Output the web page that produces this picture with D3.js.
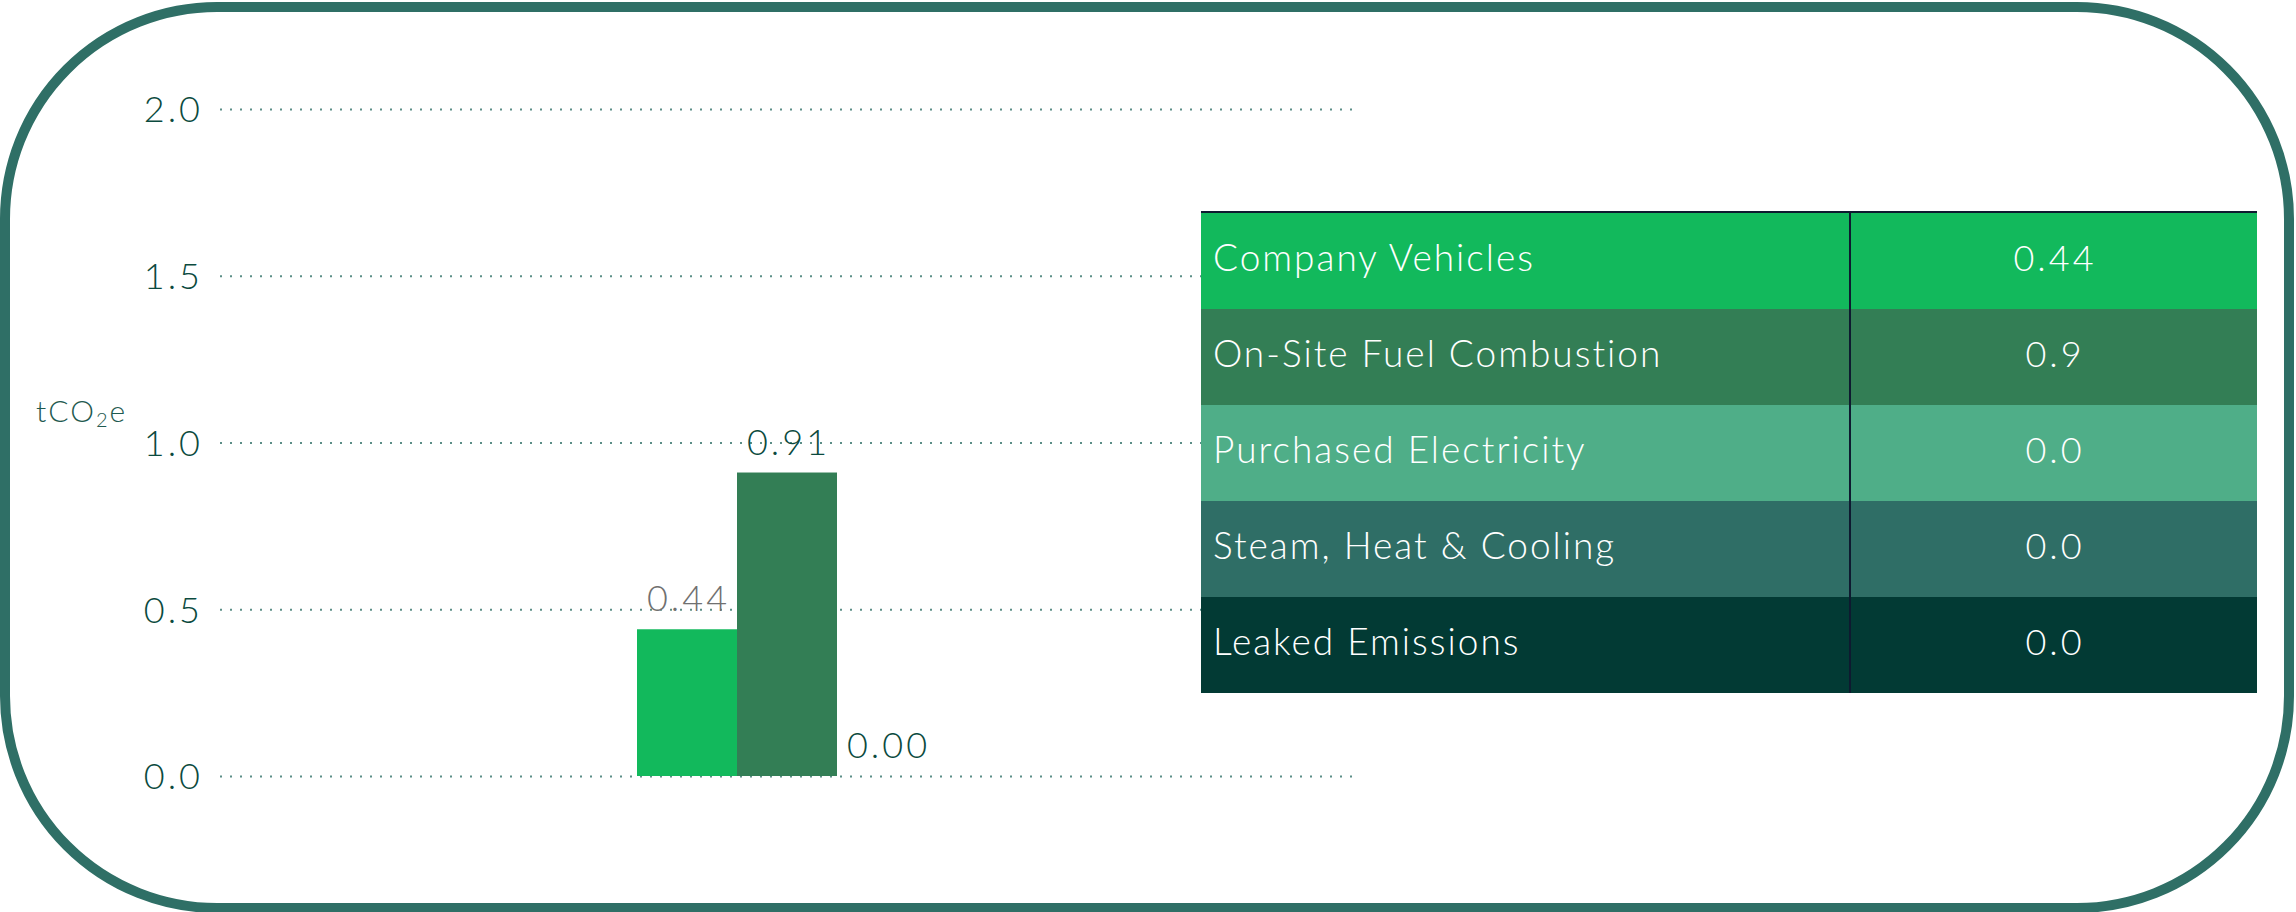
<!DOCTYPE html>
<html>
<head>
<meta charset="utf-8">
<script src="https://cdn.jsdelivr.net/npm/d3@7"></script>
<style>
  html, body { margin: 0; padding: 0; background: #fff; }
  svg { display: block; }
  text { font-family: Lato, "Open Sans", sans-serif; font-weight: 300; }
</style>
</head>
<body>
<svg id="chart"></svg>
<script>
// bar chart data
var barSeries = ["Company Vehicles", "On-Site Fuel Combustion", "Purchased Electricity"];
var barValues = [0.44, 0.91, 0.00];
var barLabels = ["0.44", "0.91", "0.00"];
var barColors = ["#12b95c", "#337e55", "#4fae88"];
var labelColors = ["#707070", "#0b4a3e", "#0b4a3e"];
var yTicks = [0, 0.5, 1.0, 1.5, 2.0];

// table data
var tableNames = ["Company Vehicles", "On-Site Fuel Combustion", "Purchased Electricity", "Steam, Heat & Cooling", "Leaked Emissions"];
var tableValues = ["0.44", "0.9", "0.0", "0.0", "0.0"];
var tableColors = ["#12b95c", "#337e55", "#4fae88", "#2f6e66", "#023a34"];

var width = 2296, height = 912;
var svg = d3.select("#chart").attr("width", width).attr("height", height);

// outer rounded frame
svg.append("rect")
  .attr("x", 5).attr("y", 7)
  .attr("width", 2284).attr("height", 901)
  .attr("rx", 212).attr("ry", 212)
  .attr("fill", "#fff")
  .attr("stroke", "#2f6f66")
  .attr("stroke-width", 10);

var plotLeft = 220, plotRight = 1354;

var y = d3.scaleLinear()
  .domain([0, 2])
  .range([776, 109]);

var x0 = d3.scaleBand()
  .domain(["Scope"])
  .range([plotLeft, plotRight])
  .paddingInner(0)
  .paddingOuter(((plotRight - plotLeft) / 300 - 1) / 2);

var x1 = d3.scaleBand()
  .domain(barSeries)
  .range([0, x0.bandwidth()]);

// y axis + dotted grid
var yAxis = d3.axisLeft(y)
  .tickValues(yTicks)
  .tickFormat(d3.format(".1f"))
  .tickSizeInner(-(plotRight - plotLeft - 2))
  .tickSizeOuter(0)
  .tickPadding(17);

var gy = svg.append("g")
  .attr("transform", "translate(" + plotLeft + ",0)")
  .call(yAxis);

gy.select(".domain").remove();
gy.selectAll(".tick line")
  .attr("stroke", "#5b8e87")
  .attr("stroke-width", 2)
  .attr("stroke-dasharray", "2,8");
gy.selectAll(".tick text")
  .attr("fill", "#0b4a3e")
  .attr("font-size", 36)
  .attr("dy", "0.36em")
  .style("letter-spacing", "3px")
  .style("font-family", "Lato, sans-serif");

// unit label
var unit = svg.append("text")
  .attr("x", 36).attr("y", 422)
  .attr("fill", "#1f5a50")
  .attr("font-size", 30)
  .style("letter-spacing", "2px");
unit.append("tspan").text("tCO");
unit.append("tspan").text("2").attr("font-size", 20).attr("dy", 5);
unit.append("tspan").text("e").attr("dy", -5);

// bars
var g = svg.append("g")
  .attr("transform", "translate(" + x0("Scope") + ",0)");

g.selectAll(".bar")
  .data(barValues)
  .enter()
  .append("rect")
  .attr("class", "bar")
  .attr("x", (d, i) => x1(barSeries[i]))
  .attr("y", d => y(d))
  .attr("width", x1.bandwidth())
  .attr("height", d => y(0) - y(d))
  .attr("fill", (d, i) => barColors[i]);

g.selectAll(".bar-label")
  .data(barValues)
  .enter()
  .append("text")
  .attr("class", "bar-label")
  .attr("x", (d, i) => x1(barSeries[i]) + x1.bandwidth() / 2 + 1.5)
  .attr("y", d => y(d) - 18)
  .attr("text-anchor", "middle")
  .attr("font-size", 36)
  .style("letter-spacing", "3px")
  .attr("fill", (d, i) => labelColors[i])
  .text((d, i) => barLabels[i]);

// table
var tLeft = 1201, tRight = 2257, tTop = 213, rowH = 96, divX = 1850;

var rows = svg.append("g").selectAll(".row")
  .data(tableNames)
  .enter()
  .append("g")
  .attr("class", "row")
  .attr("transform", (d, i) => "translate(0," + (tTop + i * rowH) + ")");

rows.append("rect")
  .attr("x", tLeft)
  .attr("width", tRight - tLeft)
  .attr("height", rowH)
  .attr("fill", (d, i) => tableColors[i]);

rows.append("text")
  .attr("x", tLeft + 12)
  .attr("y", rowH / 2 + 10)
  .attr("fill", "#fff")
  .attr("font-size", 37)
  .style("letter-spacing", "2px")
  .text(d => d);

rows.append("text")
  .attr("x", (divX + tRight) / 2 + 1.5)
  .attr("y", rowH / 2 + 10)
  .attr("text-anchor", "middle")
  .attr("fill", "#fff")
  .attr("font-size", 36)
  .style("letter-spacing", "3px")
  .text((d, i) => tableValues[i]);

svg.append("line")
  .attr("x1", divX).attr("x2", divX)
  .attr("y1", tTop).attr("y2", tTop + rowH * tableNames.length)
  .attr("stroke", "#0e1a30")
  .attr("stroke-width", 2);

svg.append("line")
  .attr("x1", tLeft).attr("x2", tRight)
  .attr("y1", tTop - 1).attr("y2", tTop - 1)
  .attr("stroke", "#0e1a30")
  .attr("stroke-width", 2);
</script>
</body>
</html>
